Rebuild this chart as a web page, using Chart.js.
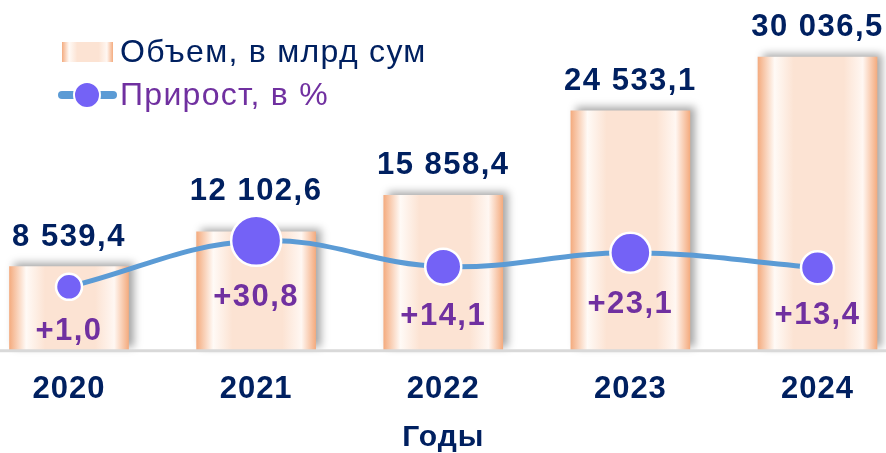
<!DOCTYPE html>
<html><head><meta charset="utf-8">
<script src="https://cdn.jsdelivr.net/npm/chart.js@4.4.1/dist/chart.umd.min.js"></script>
<style>html,body{margin:0;padding:0;background:#fff;overflow:hidden}#wrap{width:886px;height:453px;position:relative}</style>
</head><body><div id="wrap"><canvas id="c" width="886" height="453"></canvas></div>
<script>
const categories = ['2020', '2021', '2022', '2023', '2024'];
const volume = [8539.4, 12102.6, 15858.4, 24533.1, 30036.5];
const growth = [1.0, 30.8, 14.1, 23.1, 13.4];
const volumeLabels = ['8 539,4', '12 102,6', '15 858,4', '24 533,1', '30 036,5'];
const growthLabels = ['+1,0', '+30,8', '+14,1', '+23,1', '+13,4'];
const seriesNames = ['Объем, в млрд сум', 'Прирост, в %'];
const axisTitle = 'Годы';
const pointRadii = [13, 25, 18, 20, 16.5];

const NAVY = '#002060', PURPLE = '#7030a0', LINE = '#5b9bd5', DOT = '#7462f6';
const BAR_W = 119;
const FONT = '"Liberation Sans", Arial, sans-serif';

function barGradient(g2d, x0, x1) {
  const g = g2d.createLinearGradient(x0, 0, x1, 0);
  g.addColorStop(0, '#f4ac80');
  g.addColorStop(0.14, '#fffaf6');
  g.addColorStop(0.3, '#fce3d3');
  g.addColorStop(0.72, '#fce3d3');
  g.addColorStop(0.88, '#fff7f2');
  g.addColorStop(1, '#f4ac80');
  return g;
}

const decor = {
  id: 'decor',
  beforeDraw(chart) {
    chart.ctx.letterSpacing = '1px';
  },
  beforeDatasetDraw(chart, args) {
    if (args.index === 0) {
      const c = chart.ctx; c.save();
      c.shadowColor = 'rgba(0,0,0,0.35)'; c.shadowBlur = 8; c.shadowOffsetX = 5; c.shadowOffsetY = -3;
    }
  },
  afterDatasetDraw(chart, args) {
    if (args.index === 0) {
      const c = chart.ctx; c.restore();
      c.save();
      c.strokeStyle = '#d9d9d9'; c.lineWidth = 3;
      c.beginPath(); c.moveTo(0, chart.chartArea.bottom + 1); c.lineTo(chart.width, chart.chartArea.bottom + 1); c.stroke();
      c.restore();
    }
  },
  afterDatasetsDraw(chart) {
    const c = chart.ctx;
    const bars = chart.getDatasetMeta(0).data;
    const pts = chart.getDatasetMeta(1).data;
    c.save();
    c.font = 'bold 31px ' + FONT;
    c.letterSpacing = '1.5px';
    c.textAlign = 'center'; c.textBaseline = 'alphabetic';
    bars.forEach((b, i) => {
      const p = pts[i];
      const rOuter = pointRadii[i] + 1.25;
      const base = Math.min(b.y - 21, p.y - rOuter - 15);
      c.fillStyle = NAVY;
      c.fillText(volumeLabels[i], b.x, base);
      c.fillStyle = PURPLE;
      c.fillText(growthLabels[i], p.x, p.y + rOuter + 39);
    });
    c.restore();
  },
  afterDraw(chart) {
    const c = chart.ctx;
    c.save();
    c.fillStyle = barGradient(c, 62, 113);
    c.fillRect(62, 42, 51, 20);
    c.strokeStyle = LINE; c.lineWidth = 8; c.lineCap = 'round';
    c.beginPath(); c.moveTo(62, 95); c.lineTo(113, 95); c.stroke();
    c.beginPath(); c.arc(87, 95, 13, 0, Math.PI * 2);
    c.fillStyle = DOT; c.fill(); c.strokeStyle = '#fff'; c.lineWidth = 2; c.stroke();
    c.font = '32px ' + FONT; c.letterSpacing = '1.3px'; c.textAlign = 'left'; c.textBaseline = 'middle';
    c.fillStyle = NAVY; c.fillText(seriesNames[0], 120, 53);
    c.fillStyle = PURPLE; c.fillText(seriesNames[1], 120, 96);
    c.restore();
  }
};

new Chart(document.getElementById('c'), {
  data: {
    labels: categories,
    datasets: [
      {
        type: 'bar', label: seriesNames[0], data: volume, yAxisID: 'y', order: 2,
        barThickness: BAR_W, borderWidth: 0, clip: false,
        backgroundColor: (ctx) => {
          const xs = ctx.chart.scales && ctx.chart.scales.x;
          if (!xs || ctx.dataIndex === undefined) return '#fce3d3';
          const cx = xs.getPixelForValue(ctx.dataIndex);
          if (!Number.isFinite(cx)) return '#fce3d3';
          return barGradient(ctx.chart.ctx, cx - BAR_W / 2, cx + BAR_W / 2);
        }
      },
      {
        type: 'line', label: seriesNames[1], data: growth, yAxisID: 'y1', order: 1,
        borderColor: LINE, borderWidth: 5, tension: 0.4, clip: false,
        pointRadius: pointRadii, pointHoverRadius: pointRadii,
        pointBackgroundColor: DOT, pointBorderColor: '#fff', pointBorderWidth: 2.5
      }
    ]
  },
  options: {
    responsive: false, animation: false, devicePixelRatio: 1,
    layout: { autoPadding: false, padding: { left: 69, right: 68.5, top: 0, bottom: 0 } },
    plugins: { legend: { display: false }, tooltip: { enabled: false } },
    scales: {
      x: {
        type: 'category', offset: false,
        grid: { display: false, drawTicks: false }, border: { display: false },
        ticks: { color: NAVY, padding: 21, font: { family: FONT, size: 31, weight: 'bold', lineHeight: 1.2 } },
        title: { display: true, text: axisTitle, color: NAVY, padding: { top: -6, bottom: 0 },
          font: { family: FONT, size: 30, weight: 'bold', lineHeight: 1.0 } }
      },
      y: { display: false, min: 0, max: 35900 },
      y1: { display: false, min: -39.8, max: 186.9 }
    }
  },
  plugins: [decor]
});
</script></body></html>
